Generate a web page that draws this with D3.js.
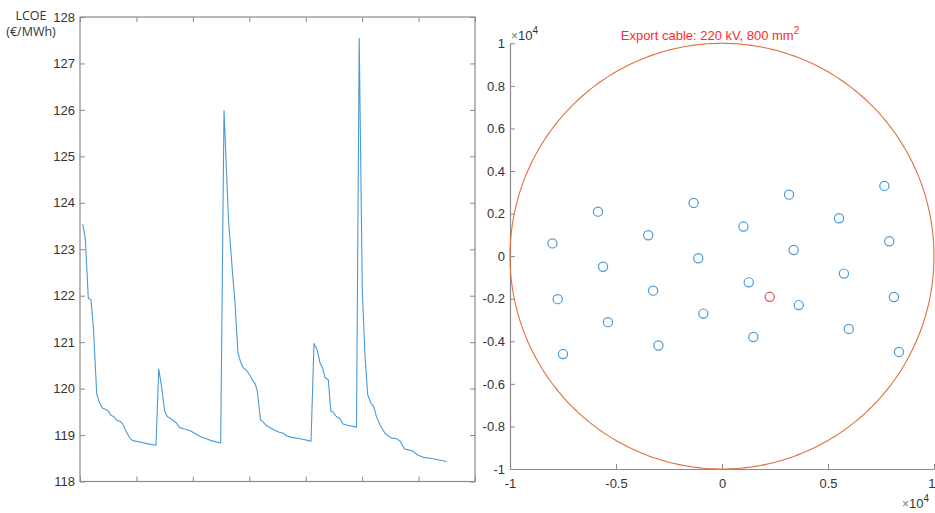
<!DOCTYPE html>
<html>
<head>
<meta charset="utf-8">
<script src="https://cdn.jsdelivr.net/npm/d3@7"></script>
<style>
  html, body { margin: 0; padding: 0; background: #fff; }
  svg { display: block; }
  text { font-family: "Liberation Sans", Arial, sans-serif; }
</style>
</head>
<body>
<svg id="fig" width="935" height="513"></svg>
<script>
// ---- LCOE sweep (left panel) ----
const sweepX = [
  0.48, 0.94, 1.47, 1.95, 2.36, 2.96, 3.37, 3.95, 4.78, 5.08, 5.49, 5.97, 6.50, 7.14, 7.57, 8.15,
  8.98, 9.39, 10.58, 12.05, 13.47,
  13.95, 14.41, 15.01, 15.47, 16.36, 17.07, 17.67, 18.55, 19.44, 20.33, 21.50, 22.38, 23.27, 24.93,
  25.52, 26.31, 26.99, 27.47, 27.98, 28.44, 28.94, 29.54, 30.18, 30.66, 31.06, 31.42, 31.99, 32.38,
  33.09, 33.79, 34.56, 35.32, 36.03, 36.63, 37.52, 38.99, 40.94,
  41.47, 41.95, 42.23, 42.53, 43.01, 43.42, 44.00, 44.45, 44.89, 45.42, 46.00, 46.61, 47.40, 49.00,
  49.48, 50.03, 50.51, 50.98, 51.52, 52.05, 52.58, 53.16, 54.05, 55.11, 56.12, 56.71, 57.51, 58.57,
  59.07, 59.81, 60.84, 62.56, 64.98
];
const lcoe = [
  123.54, 123.24, 121.95, 121.91, 121.34, 119.90, 119.72, 119.58, 119.54, 119.51, 119.42, 119.40, 119.32, 119.29, 119.24, 119.08,
  118.91, 118.88, 118.85, 118.81, 118.78,
  120.42, 120.08, 119.51, 119.40, 119.33, 119.26, 119.16, 119.13, 119.10, 119.04, 118.96, 118.92, 118.88, 118.83,
  125.98, 123.65, 122.55, 121.84, 120.78, 120.58, 120.45, 120.39, 120.27, 120.16, 120.10, 119.94, 119.33, 119.29,
  119.20, 119.15, 119.10, 119.06, 119.04, 118.98, 118.95, 118.92, 118.87,
  120.97, 120.86, 120.73, 120.55, 120.44, 120.24, 120.19, 119.52, 119.49, 119.40, 119.36, 119.24, 119.21, 119.17,
  127.54, 122.10, 120.70, 119.87, 119.69, 119.61, 119.38, 119.22, 119.04, 118.94, 118.92, 118.87, 118.70, 118.67,
  118.65, 118.57, 118.52, 118.49, 118.43
];
const lcoeTicks = [118, 119, 120, 121, 122, 123, 124, 125, 126, 127, 128];
const sweepTicks = [0, 10, 20, 30, 40, 50, 60, 70];

// ---- Turbine layout (right panel), metres ----
const turbineX = [
  -8000, -5850, -3480, -1340, 1010, 3160, 3380, 5520, 7660, 7890, -1120,
  -5610, -7750, -3250, -5380, -7500, -3000, -880, 1260, 1480, 3620, 5750, 5980, 8110, 8350
];
const turbineY = [
  600, 2090, 980, 2500, 1390, 2890, 290, 1780, 3300, 700, -100,
  -500, -2020, -1620, -3100, -4600, -4200, -2700, -1230, -3800, -2300, -820, -3420, -1920, -4500
];
const substationX = [2250];
const substationY = [-1910];
const cableRadius = 10000;
const layoutTicksX = [-10000, -5000, 0, 5000, 10000];
const layoutTicksY = [-10000, -8000, -6000, -4000, -2000, 0, 2000, 4000, 6000, 8000, 10000];
const layoutTitle = "Export cable: 220 kV, 800 mm";

const svg = d3.select("#fig");
const axisCol = "#8a8a8a";
const labelCol = "#333333";
const blue = "#4a9ad8";

// ================= left panel =================
const L = { left: 80, right: 475, top: 17, bottom: 481.5 };
const xL = d3.scaleLinear().domain([0, 70]).range([L.left, L.right]);
const yL = d3.scaleLinear().domain([118, 128]).range([L.bottom, L.top]);

const gL = svg.append("g");
const tickLen = 5;

// inward ticks on all four sides
gL.append("g").attr("transform", `translate(0,${L.bottom})`)
  .call(d3.axisBottom(xL).tickValues(sweepTicks).tickSizeInner(-tickLen).tickSizeOuter(0).tickFormat(""));
gL.append("g").attr("transform", `translate(0,${L.top})`)
  .call(d3.axisTop(xL).tickValues(sweepTicks).tickSizeInner(-tickLen).tickSizeOuter(0).tickFormat(""));
gL.append("g").attr("transform", `translate(${L.left},0)`)
  .call(d3.axisLeft(yL).tickValues(lcoeTicks).tickSizeInner(-tickLen).tickSizeOuter(0).tickPadding(5).tickFormat(d3.format("d")));
gL.append("g").attr("transform", `translate(${L.right},0)`)
  .call(d3.axisRight(yL).tickValues(lcoeTicks).tickSizeInner(-tickLen).tickSizeOuter(0).tickFormat(""));
gL.selectAll(".domain").remove();
gL.selectAll(".tick line").attr("stroke", axisCol).attr("stroke-width", 1);
gL.selectAll(".tick text").attr("fill", labelCol).style("font-size", "13px");

gL.append("rect")
  .attr("x", L.left).attr("y", L.top)
  .attr("width", L.right - L.left).attr("height", L.bottom - L.top)
  .attr("fill", "none").attr("stroke", axisCol).attr("stroke-width", 1.2);

const sweep = sweepX.map((x, i) => [x, lcoe[i]]);
gL.append("path")
  .datum(sweep)
  .attr("fill", "none")
  .attr("stroke", blue)
  .attr("stroke-width", 1.1)
  .attr("stroke-linejoin", "round")
  .attr("d", d3.line().x(d => xL(d[0])).y(d => yL(d[1])));

// y label
const yLab = svg.append("text")
  .attr("text-anchor", "middle")
  .attr("fill", labelCol)
  .style("font-family", "'Open Sans', sans-serif")
  .style("font-size", "12.5px");
yLab.append("tspan").attr("x", 31).attr("y", 20).text("LCOE");
yLab.append("tspan").attr("x", 31).attr("y", 36).text("(€/MWh)");

// ================= right panel =================
const R = { left: 510, right: 934, top: 43.3, bottom: 469 };
const xR = d3.scaleLinear().domain([-10000, 10000]).range([R.left, R.right]);
const yR = d3.scaleLinear().domain([-10000, 10000]).range([R.bottom, R.top]);
const fmt4 = d => String(+(d / 10000).toFixed(1));

const gR = svg.append("g");
const xAxisR = gR.append("g").attr("transform", `translate(0,${R.bottom})`)
  .call(d3.axisBottom(xR).tickValues(layoutTicksX).tickSizeInner(-tickLen).tickSizeOuter(0).tickPadding(10).tickFormat(fmt4));
gR.append("g").attr("transform", `translate(${R.left},0)`)
  .call(d3.axisLeft(yR).tickValues(layoutTicksY).tickSizeInner(-tickLen).tickSizeOuter(0).tickPadding(5).tickFormat(fmt4));
gR.selectAll(".domain").attr("stroke", axisCol).attr("stroke-width", 1.2);
gR.selectAll(".tick line").attr("stroke", axisCol).attr("stroke-width", 1);
gR.selectAll(".tick text").attr("fill", labelCol).style("font-size", "13px");
// last x label sits at the figure edge: right-align it so it stays inside
xAxisR.selectAll(".tick text").filter(d => d === d3.max(layoutTicksX))
  .attr("text-anchor", "end").attr("x", 1);

// export cable reach
const ang = d3.range(0, 361, 1).map(a => a * Math.PI / 180);
gR.append("path")
  .datum(ang)
  .attr("fill", "none")
  .attr("stroke", "#e0703f")
  .attr("stroke-width", 1.1)
  .attr("d", d3.line()
    .x(a => xR(cableRadius * Math.cos(a)))
    .y(a => yR(cableRadius * Math.sin(a))));

// turbines
gR.append("g").selectAll("circle")
  .data(turbineX.map((x, i) => [x, turbineY[i]]))
  .join("circle")
  .attr("cx", d => xR(d[0]))
  .attr("cy", d => yR(d[1]))
  .attr("r", 4.6)
  .attr("fill", "none")
  .attr("stroke", blue)
  .attr("stroke-width", 1.2);

// offshore substation
gR.append("g").selectAll("circle")
  .data(substationX.map((x, i) => [x, substationY[i]]))
  .join("circle")
  .attr("cx", d => xR(d[0]))
  .attr("cy", d => yR(d[1]))
  .attr("r", 4.6)
  .attr("fill", "none")
  .attr("stroke", "#f04a4a")
  .attr("stroke-width", 1.2);

// title
const title = svg.append("text")
  .attr("x", 710).attr("y", 40)
  .attr("text-anchor", "middle")
  .attr("fill", "#ff2a2a")
  .style("font-size", "13px");
title.append("tspan").text(layoutTitle);
title.append("tspan").attr("dy", -6).style("font-size", "10px").text("2");

// exponent labels
function expLabel(x, y) {
  const t = svg.append("text").attr("x", x).attr("y", y).attr("fill", labelCol).style("font-size", "13px");
  t.append("tspan").style("font-size", "12px").attr("fill", "#777").text("×");
  t.append("tspan").text("10");
  t.append("tspan").attr("dy", -6).style("font-size", "10px").text("4");
}
expLabel(511, 40);
expLabel(902, 508);
</script>
</body>
</html>
